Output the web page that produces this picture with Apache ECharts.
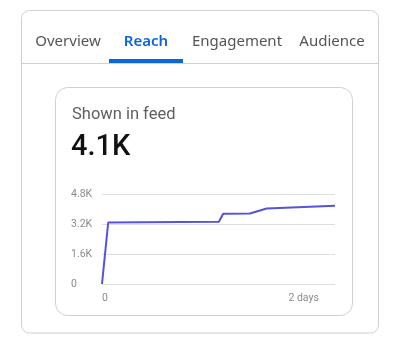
<!DOCTYPE html>
<html>
<head>
<meta charset="utf-8">
<script src="https://cdn.jsdelivr.net/npm/echarts@6/dist/echarts.min.js"></script>
<style>
html,body{margin:0;padding:0;background:#fff;}
#c{width:402px;height:346px;}
</style>
</head>
<body>
<div id="c"></div>
<script>
const tabs = ['Overview', 'Reach', 'Engagement', 'Audience'];
const tabCenters = [68, 146, 237, 332];
const activeTab = 'Reach';
const metricTitle = 'Shown in feed';
const metricValue = '4.1K';
const hours = [0, 1.6, 30.1, 31.2, 38.1, 42.4, 60];
const shown = [0, 3280, 3320, 3750, 3760, 4030, 4170];
const yTicks = [0, 1600, 3200, 4800];
const xTickLabels = {0: '0', 48: '2 days'};

const chart = echarts.init(document.getElementById('c'), null, {renderer: 'canvas'});

const graphics = [
  {type: 'rect', shape: {x: 21.5, y: 10.5, width: 357, height: 322.5, r: 8},
   style: {fill: 'none', stroke: '#cfcfcf', lineWidth: 1}},
  {type: 'line', shape: {x1: 22, y1: 63.5, x2: 378, y2: 63.5},
   style: {stroke: '#d2d2d2', lineWidth: 1}},
  {type: 'rect', shape: {x: 109, y: 59, width: 74, height: 4},
   style: {fill: '#0b66d6'}},
  {type: 'rect', shape: {x: 55.5, y: 87.5, width: 297, height: 228, r: 12},
   style: {fill: 'none', stroke: '#d0d0d0', lineWidth: 1}},
  {type: 'text', x: 72, y: 115, style: {text: metricTitle, fill: '#5f5f5f',
   font: '16.5px Roboto', textAlign: 'left', textVerticalAlign: 'middle'}},
  {type: 'text', x: 71, y: 148, style: {text: metricValue, fill: '#111',
   font: '500 29px Roboto', textAlign: 'left', textVerticalAlign: 'middle'}}
];
tabs.forEach((t, i) => {
  const active = t === activeTab;
  graphics.push({type: 'text', x: tabCenters[i], y: 42,
    style: {text: t, fill: active ? '#0b66d6' : '#555',
      font: (active ? '600 ' : '') + '15px "Noto Sans"',
      textAlign: 'center', textVerticalAlign: 'middle'}});
});

chart.setOption({
  animation: false,
  backgroundColor: 'transparent',
  graphic: graphics,
  grid: {left: 102, right: 67, top: 194, bottom: 62},
  xAxis: {
    type: 'value', min: 0, max: 60, interval: 12,
    axisLine: {show: false}, axisTick: {show: false}, splitLine: {show: false},
    axisLabel: {
      color: '#8a8a8a', fontFamily: 'Roboto', fontSize: 10.5, align: 'left', margin: 9,
      showMaxLabel: false,
      formatter: v => (xTickLabels[v] !== undefined ? xTickLabels[v] : '')
    }
  },
  yAxis: {
    type: 'value', min: 0, max: 4800, interval: 1600,
    axisLine: {show: false}, axisTick: {show: false},
    splitLine: {lineStyle: {color: '#dedede', width: 1}},
    axisLabel: {
      color: '#8a8a8a', fontFamily: 'Roboto', fontSize: 10.5, align: 'left', margin: 31,
      formatter: v => (yTicks.indexOf(v) < 0 ? '' : (v === 0 ? '0' : (v / 1000).toFixed(1) + 'K'))
    }
  },
  series: [{
    type: 'line',
    data: hours.map((h, i) => [h, shown[i]]),
    showSymbol: false,
    lineStyle: {color: '#5753d8', width: 2},
    z: 5
  }]
});
</script>
</body>
</html>
